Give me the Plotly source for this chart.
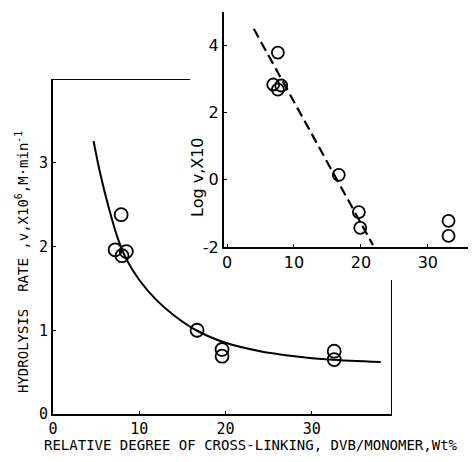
import plotly.graph_objects as go

# Main plot data
main_x = [7.9, 7.2, 8.5, 8.0, 16.7, 19.6, 19.6, 32.6, 32.6]
main_y = [2.38, 1.96, 1.94, 1.89, 1.00, 0.77, 0.69, 0.75, 0.65]

curve_x = [4.7, 5.5, 6.5, 7.5, 8.5, 10, 12, 14, 16.6, 20, 24, 28, 32, 38]
curve_y = [3.26, 2.86, 2.45, 2.10, 1.85, 1.60, 1.36, 1.18, 1.00, 0.85, 0.75, 0.69, 0.65, 0.62]

main_xticks = [0, 10, 20, 30]
main_yticks = [0, 1, 2, 3]

# Inset data
inset_x = [7.6, 6.9, 8.1, 7.6, 16.7, 19.7, 19.9, 33.1, 33.1]
inset_y = [3.79, 2.84, 2.81, 2.69, 0.15, -0.96, -1.43, -1.22, -1.67]

dash_x = [4.0, 21.8]
dash_y = [4.5, -1.94]

inset_xticks = [0, 10, 20, 30]
inset_yticks = [-2, 0, 2, 4]

# page body has an 8px margin; figure sized to fit the 476x462 window
OFF = 8
W, H = 468, 446


def px(x):
    return (x - OFF) / W


def py(y):
    return 1 - (y - OFF) / H


mono = "DejaVu Sans Mono"
sans = "DejaVu Sans"

fig = go.Figure()

fig.add_trace(go.Scatter(x=curve_x, y=curve_y, mode="lines", line=dict(color="black", width=2, shape="spline"),
                         xaxis="x", yaxis="y", showlegend=False, hoverinfo="skip"))
fig.add_trace(go.Scatter(x=main_x, y=main_y, mode="markers",
                         marker=dict(symbol="circle-open", size=13, color="black", line=dict(width=1.8)),
                         xaxis="x", yaxis="y", showlegend=False))

fig.add_trace(go.Scatter(x=dash_x, y=dash_y, mode="lines", line=dict(color="black", width=2.2, dash="10px,5px"),
                         xaxis="x2", yaxis="y2", showlegend=False, hoverinfo="skip"))
fig.add_trace(go.Scatter(x=inset_x, y=inset_y, mode="markers",
                         marker=dict(symbol="circle-open", size=12, color="black", line=dict(width=1.8)),
                         xaxis="x2", yaxis="y2", showlegend=False))

main_xr = [0, 39.3]
main_yr = [0, 4]

axis_common = dict(showgrid=False, zeroline=False, automargin=False,
                   showline=True, linecolor="black", linewidth=2,
                   ticks="inside", ticklen=3, tickcolor="black")

fig.update_layout(
    width=W, height=H,
    margin=dict(l=0, r=0, t=0, b=0, pad=0, autoexpand=False),
    paper_bgcolor="white", plot_bgcolor="rgba(0,0,0,0)",
    xaxis=dict(domain=[px(53), px(392)], range=main_xr,
               tickvals=main_xticks, ticktext=[str(t) for t in main_xticks],
               tickfont=dict(family=mono, size=15, color="black"), anchor="y", **axis_common),
    yaxis=dict(domain=[py(414), py(79)], range=main_yr,
               tickvals=main_yticks, ticktext=[str(t) for t in main_yticks],
               tickfont=dict(family=mono, size=15, color="black"), anchor="x", **axis_common),
    xaxis2=dict(domain=[px(224), 1.0], range=[-0.45, 37.2],
                tickvals=inset_xticks, ticktext=[str(t) for t in inset_xticks],
                tickfont=dict(family=sans, size=16, color="black"), anchor="y2", **axis_common),
    yaxis2=dict(domain=[py(247), py(12)], range=[-2, 5.0],
                tickvals=inset_yticks, ticktext=[str(t) for t in inset_yticks],
                tickfont=dict(family=sans, size=16, color="black"), anchor="x2", **axis_common),
    shapes=[
        dict(type="line", xref="x", yref="y", x0=main_xr[0], x1=15.9, y0=main_yr[1], y1=main_yr[1],
             line=dict(color="black", width=2)),
        dict(type="line", xref="x", yref="y", x0=main_xr[1], x1=main_xr[1], y0=0, y1=1.6,
             line=dict(color="black", width=2)),
    ],
    annotations=[
        dict(text="RELATIVE DEGREE OF CROSS-LINKING, DVB/MONOMER,Wt%", xref="paper", yref="paper",
             x=px(251), y=0, showarrow=False, xanchor="center", yanchor="bottom", borderpad=0,
             font=dict(family=mono, size=14, color="black")),
        dict(text="HYDROLYSIS  RATE ,v,X10<sup>6</sup>,M·min<sup>-1</sup>", xref="paper", yref="paper",
             x=px(22), y=py(262), showarrow=False, textangle=-90, xanchor="center", yanchor="middle",
             font=dict(family=mono, size=14, color="black")),
        dict(text="Log v,X10", xref="paper", yref="paper",
             x=px(197), y=py(177), showarrow=False, textangle=-90, xanchor="center", yanchor="middle",
             font=dict(family=sans, size=16, color="black")),
    ],
)

fig.write_html("out.html", config={"displayModeBar": False})
